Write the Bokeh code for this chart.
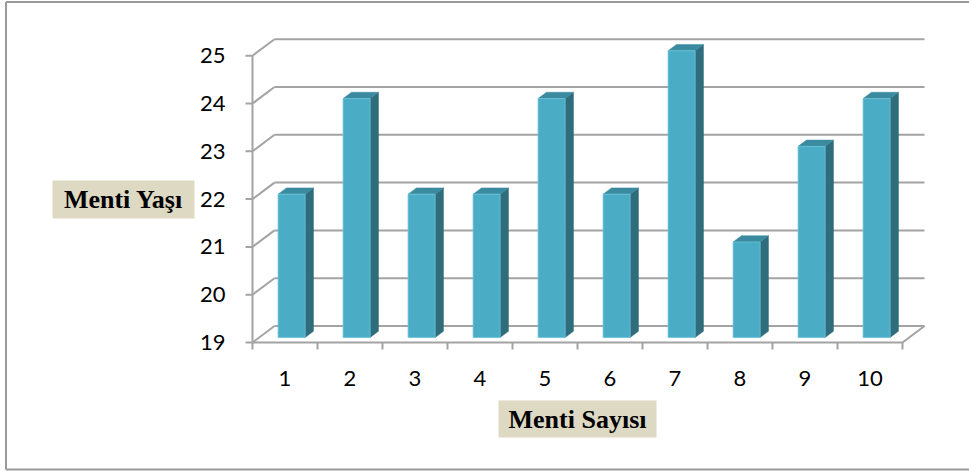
from bokeh.plotting import figure
from bokeh.models import Range1d
from bokeh.embed import file_html
from bokeh.resources import INLINE
from bokeh.core.properties import value

# ---- data -------------------------------------------------------------
mentees = [1, 2, 3, 4, 5, 6, 7, 8, 9, 10]
ages = [22, 24, 22, 22, 24, 22, 25, 21, 23, 24]
y_ticks = [19, 20, 21, 22, 23, 24, 25]
x_labels = [str(m) for m in mentees]
y_labels = [str(t) for t in y_ticks]
x_title = "Menti Sayısı"
y_title = "Menti Yaşı"

# ---- layout constants (pixels) ---------------------------------------
W, H = 969, 471
X0_PX, Y0_PX = 252, 342        # front-left corner of the floor
PX_PER_CAT = 65.0
PX_PER_UNIT = 47.8
Y_BASE = y_ticks[0]
Y_TOP = y_ticks[-1]

x_start = 0.5 - X0_PX / PX_PER_CAT
x_end = x_start + W / PX_PER_CAT
y_start = Y_BASE - (H - Y0_PX) / PX_PER_UNIT
y_end = y_start + H / PX_PER_UNIT


def dx(px):
    return x_start + px / PX_PER_CAT


def dy(py):
    return y_end - py / PX_PER_UNIT


# perspective offset of the back wall, in data units
DX = 22 / PX_PER_CAT
DY = 16.5 / PX_PER_UNIT
D0, D1 = 0.30, 0.68            # bar depth span (fraction of floor depth)
BAR_W = 27 / PX_PER_CAT
TICK_X = 7 / PX_PER_CAT
TICK_Y = 7 / PX_PER_UNIT
X_LO, X_HI = 0.5, len(mentees) + 0.5


def P(x, y, d):
    return x + d * DX, y + d * DY


def poly(points):
    return [pt[0] for pt in points], [pt[1] for pt in points]


p = figure(width=W, height=H, output_backend="svg", toolbar_location=None,
           x_range=Range1d(x_start, x_end), y_range=Range1d(y_start, y_end),
           min_border=0)
p.axis.visible = False
p.xgrid.visible = False
p.ygrid.visible = False
p.outline_line_color = None
p.background_fill_color = "white"
p.border_fill_color = "white"

GRID = "#a3a3a3"

# chart area border
p.multi_line(xs=[[dx(5.5), dx(5.5)], [dx(5.5), dx(W)], [dx(5.5), dx(W)]],
             ys=[[dy(1.5), dy(469)], [dy(1.5), dy(1.5)], [dy(469), dy(469)]],
             line_color="#9a9a9a", line_width=2)

# back wall gridlines and left wall diagonals
gx, gy = [], []
for t in y_ticks:
    a, b = poly([P(X_LO, t, 1), P(X_HI, t, 1)])
    gx.append(a); gy.append(b)
    a, b = poly([P(X_LO, t, 0), P(X_LO, t, 1)])
    gx.append(a); gy.append(b)
# floor front and right edges, vertical value axis
a, b = poly([P(X_LO, Y_BASE, 0), P(X_HI, Y_BASE, 0), P(X_HI, Y_BASE, 1)])
gx.append(a); gy.append(b)
gx.append([X_LO, X_LO]); gy.append([Y_BASE, Y_TOP])
# tick marks
for t in y_ticks:
    gx.append([X_LO - TICK_X, X_LO]); gy.append([t, t])
for k in range(len(mentees) + 1):
    gx.append([X_LO + k, X_LO + k]); gy.append([Y_BASE, Y_BASE - TICK_Y])
p.multi_line(xs=gx, ys=gy, line_color=GRID, line_width=2)

# 3-D bars
front_x, front_y, side_x, side_y, top_x, top_y = [], [], [], [], [], []
for m, v in zip(mentees, ages):
    xl, xr = m - BAR_W / 2, m + BAR_W / 2
    a, b = poly([P(xl, Y_BASE, D0), P(xr, Y_BASE, D0), P(xr, v, D0), P(xl, v, D0)])
    front_x.append(a); front_y.append(b)
    a, b = poly([P(xr, Y_BASE, D0), P(xr, Y_BASE, D1), P(xr, v, D1), P(xr, v, D0)])
    side_x.append(a); side_y.append(b)
    a, b = poly([P(xl, v, D0), P(xr, v, D0), P(xr, v, D1), P(xl, v, D1)])
    top_x.append(a); top_y.append(b)

p.patches(xs=side_x, ys=side_y, fill_color="#2f6d7c", line_color="#2f6d7c", line_width=0.5)
p.patches(xs=top_x, ys=top_y, fill_color="#3a8ba0", line_color="#3a8ba0", line_width=0.5)
p.patches(xs=front_x, ys=front_y, fill_color="#4bacc6", line_color="#6cc3da", line_width=0.8)

# tick labels
p.text(x=[X_LO - 27 / PX_PER_CAT] * len(y_ticks), y=y_ticks, text=y_labels,
       text_font=value("Lato"), text_font_size="22px", text_color="#000000",
       text_align="right", text_baseline="middle")
p.text(x=mentees, y=[Y_BASE - 36 / PX_PER_UNIT] * len(mentees), text=x_labels,
       text_font=value("Lato"), text_font_size="22px", text_color="#000000",
       text_align="center", text_baseline="middle")

# axis titles on shaded boxes
TITLE_BG = "#ddd9c3"
yt_x, yt_y = dx(123), dy(199)
xt_x, xt_y = dx(577), dy(418.5)
p.rect(x=[yt_x, xt_x], y=[yt_y, xt_y], width=[142, 158], height=[38, 37],
       width_units="screen", height_units="screen",
       fill_color=TITLE_BG, line_color=None)
p.text(x=[yt_x, xt_x], y=[yt_y, xt_y], text=[y_title, x_title],
       text_font=value("Liberation Serif"), text_font_style="bold",
       text_font_size="26px", text_color="#000000",
       text_align="center", text_baseline="middle")

open("out.html", "w").write(file_html(p, INLINE))
